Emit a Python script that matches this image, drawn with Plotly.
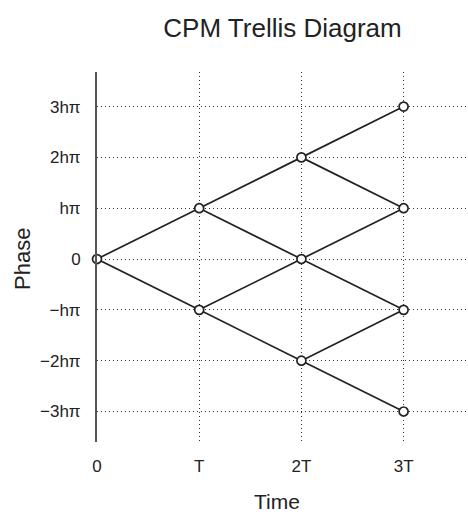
import plotly.graph_objects as go

# Trellis data
x_tickvals = [0, 1, 2, 3]
x_ticktext = ["0", "T", "2T", "3T"]
y_tickvals = [3, 2, 1, 0, -1, -2, -3]
y_ticktext = ["3hπ", "2hπ", "hπ", "0", "−hπ", "−2hπ", "−3hπ"]

# nodes (time index, phase index)
node_t = [0, 1, 1, 2, 2, 2, 3, 3, 3, 3]
node_p = [0, 1, -1, 2, 0, -2, 3, 1, -1, -3]

# edges: start time, start phase, end phase
edge_t0 = [0, 0, 1, 1, 1, 1, 2, 2, 2, 2, 2, 2]
edge_p0 = [0, 0, 1, 1, -1, -1, 2, 2, 0, 0, -2, -2]
edge_p1 = [1, -1, 2, 0, 0, -2, 3, 1, 1, -1, -1, -3]

fig = go.Figure()

ex, ey = [], []
for t0, p0, p1 in zip(edge_t0, edge_p0, edge_p1):
    ex += [t0, t0 + 1, None]
    ey += [p0, p1, None]

fig.add_trace(go.Scatter(x=ex, y=ey, mode="lines",
                         line=dict(color="#222222", width=1.7),
                         hoverinfo="skip", showlegend=False))
fig.add_trace(go.Scatter(x=node_t, y=node_p, mode="markers",
                         marker=dict(symbol="circle", size=9, color="white",
                                     line=dict(color="#222222", width=1.7)),
                         showlegend=False, cliponaxis=False))

FONT = "Liberation Sans, Arial, sans-serif"
fig.update_layout(
    width=468, height=516,
    margin=dict(l=97, r=0, t=72, b=74),
    paper_bgcolor="white", plot_bgcolor="white",
    font=dict(family=FONT, color="#222222", size=17),
    title=dict(text="CPM Trellis Diagram", x=0.5, xref="paper", xanchor="center",
               y=1 - 28 / 516, yref="container", yanchor="middle",
               font=dict(size=26, color="#222222")),
    xaxis=dict(range=[0, 3.63], tickvals=x_tickvals, ticktext=x_ticktext,
               showgrid=True, gridcolor="#333333", gridwidth=1, griddash="1px,3px",
               zeroline=False, showline=False, ticks="", ticklabelstandoff=12,
               automargin=False),
    yaxis=dict(range=[-3.6, 3.68], tickvals=y_tickvals, ticktext=y_ticktext,
               showgrid=True, gridcolor="#333333", gridwidth=1, griddash="1px,3px",
               zeroline=False, showline=True, linecolor="#555555", linewidth=2,
               ticks="", ticklabelstandoff=11, automargin=False),
    annotations=[
        dict(text="Time", xref="paper", yref="paper",
             x=(277 - 97) / 371, y=(442 - 501) / 370,
             xanchor="center", yanchor="middle", showarrow=False,
             font=dict(size=21, color="#222222")),
        dict(text="Phase", xref="paper", yref="paper",
             x=(22 - 97) / 371, y=(442 - 259) / 370, textangle=-90,
             xanchor="center", yanchor="middle", showarrow=False,
             font=dict(size=22, color="#222222")),
    ],
)

fig.write_html("out.html", config={"displayModeBar": False},
               post_script="document.body.style.margin='0';")
